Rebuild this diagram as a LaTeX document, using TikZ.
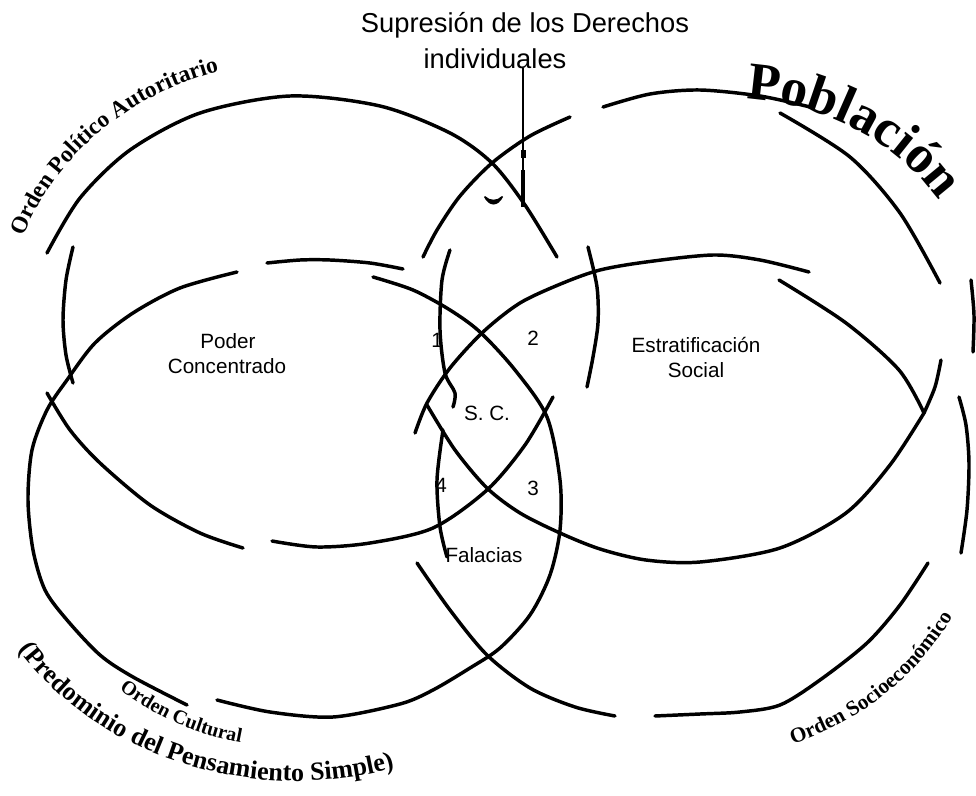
\documentclass[tikz,border=0pt]{standalone}
\usepackage{fontspec}
\setmainfont{Liberation Sans}
\newfontfamily\ordenfont{Liberation Serif}
\usetikzlibrary{decorations.text}
\begin{document}
\begin{tikzpicture}[x=0.75pt,y=-0.75pt,
  ring/.style={line width=2.6pt,line cap=round,line join=round},
  lbl/.style={font=\fontsize{15.5}{18}\selectfont,inner sep=0pt,anchor=base},
  headlbl/.style={font=\fontsize{20.5}{24}\selectfont,inner sep=0pt,anchor=base},
]
\useasboundingbox (0,0) rectangle (976,796);

% ---- Orden Politico Autoritario (upper left)
\draw[ring] plot[smooth] coordinates {(47,253) (80,198) (130,150) (200,113) (290,96) (380,106) (450,133) (492,163) (525,205) (557,257)};
\draw[ring] plot[smooth] coordinates {(47,393) (70,430) (100,463) (150,505) (200,533) (243,548)};
\draw[ring] plot[smooth] coordinates {(272,541) (317,547) (370,543) (433,528) (487,490) (525,445) (553,397)};

% ---- Poblacion (upper right)
\draw[ring] plot[smooth] coordinates {(423,257) (437,230) (460,196) (492,163) (530,136) (570,117)};
\draw[ring] plot[smooth] coordinates {(603,107) (650,94) (700,90) (760,96) (810,107)};
\draw[ring] plot[smooth] coordinates {(780,113) (850,157) (900,213) (940,283)};
\draw[ring] plot[smooth] coordinates {(941,360) (935,387) (924,413)};
\draw[ring] plot[smooth] coordinates {(924,413) (890,465) (846,513) (780,548) (700,562) (646,560) (600,549) (560,533) (520,513) (487,488) (455,450) (427,405)};

% ---- Orden Socioeconomico (lower right)
\draw[ring] plot[smooth] coordinates {(415,433) (427,403) (450,368) (483,332) (520,303) (563,283) (600,270) (646,262) (713,255) (760,260) (809,272)};
\draw[ring] plot[smooth] coordinates {(779,280) (846,323) (899,370) (924,413)};
\draw[ring] plot[smooth] coordinates {(959,397) (966,425) (969,463) (967,510) (961,553)};
\draw[ring] plot[smooth] coordinates {(928,563) (900,605) (867,643) (820,680) (780,705) (740,712) (700,714) (655,716)};
\draw[ring] plot[smooth] coordinates {(417,563) (450,610) (487,655) (530,688) (575,707) (615,716)};

% ---- Orden Cultural (lower left)
\draw[ring] plot[smooth] coordinates {(237,272) (180,288) (133,313) (95,343) (67,380) (47,410) (32,450) (28,500) (33,550) (45,590) (67,620) (100,655) (133,677) (187,705)};
\draw[ring] plot[smooth] coordinates {(267,263) (300,260) (330,260) (370,263) (403,269)};
\draw[ring] plot[smooth] coordinates {(373,277) (413,290) (450,310) (480,332) (515,370) (547,417) (560,480) (560,530) (550,575) (530,615) (500,648) (470,668) (433,690) (400,704) (333,717) (270,712) (217,700)};

% ---- short side strokes
\draw[ring] plot[smooth] coordinates {(450,250) (442,280) (440,330) (445,373) (455,393) (453,407)};
\draw[ring] plot[smooth] coordinates {(443,430) (437,480) (440,527) (447,557)};
\draw[ring] plot[smooth] coordinates {(588,247) (597,287) (598,323) (593,357) (587,387)};
\draw[ring] plot[smooth] coordinates {(73,247) (66,280) (63,320) (66,355) (73,383)};
\draw[ring] plot[smooth] coordinates {(971,280) (974,315) (973,352)};

% ---- small mark in the upper lens
\fill (484,197) .. controls (489,207) and (498,207) .. (503,197) -- (502,196) .. controls (497,201) and (490,201) .. (485,196) -- cycle;

% ---- labels
\node[headlbl] (supr) at (525,32) {Supresión de los Derechos};
\node[headlbl] (indiv) at (495,68) {individuales};
\coordinate (suptip) at (523,207);
\coordinate (supthick) at (523,170);
\draw[line width=1.4pt] (indiv.base -| suptip) -- (suptip);
\draw[line width=2.6pt] (supthick) -- (suptip);
\fill (520.5,150) rectangle (525.5,158);

\node[lbl] (poder) at (228,348) {Poder};
\node[lbl] (concentrado) at (227,373) {Concentrado};
\node[lbl] (estrat) at (696,352) {Estratificación};
\node[lbl] (social) at (696,377) {Social};
\node[lbl] (n1) at (437,347) {1};
\node[lbl] (n2) at (533,345) {2};
\node[lbl] (sc) at (487,420) {S. C.};
\node[lbl] (n4) at (441,492) {4};
\node[lbl] (n3) at (533,495) {3};
\node[lbl] (falacias) at (484,562) {Falacias};

% ---- curved titles
\path[decorate,decoration={text along path,text align=center,
  text={|\ordenfont\bfseries\fontsize{17.5}{21}\selectfont|Orden Político Autoritario}}]
  (305,322) ++(196:298 and 262) arc[start angle=196,end angle=256,x radius=298,y radius=262];

\path[decorate,decoration={text along path,text align=center,
  text={|\ordenfont\bfseries\fontsize{40}{46}\selectfont|Población}}]
  (726,99) .. controls (818,97) and (905,142) .. (950,218);

\path[decorate,decoration={text along path,text align=center,
  text={|\ordenfont\bfseries\fontsize{15}{18}\selectfont|Orden Cultural}}]
  (296,489) ++(137:279 and 259) arc[start angle=137,end angle=94,x radius=279,y radius=259];

\path[decorate,decoration={text along path,text align=center,
  text={|\ordenfont\bfseries\fontsize{19.5}{23}\selectfont|(Predominio del Pensamiento Simple)}}]
  (296,489) ++(154:332 and 292) arc[start angle=154,end angle=66,x radius=332,y radius=292];

\path[decorate,decoration={text along path,text align=center,
  text={|\ordenfont\bfseries\fontsize{16}{19}\selectfont|Orden Socioeconómico}}]
  (690,487) ++(76:298 and 274) arc[start angle=76,end angle=21.6,x radius=298,y radius=274];
\end{tikzpicture}
\end{document}
